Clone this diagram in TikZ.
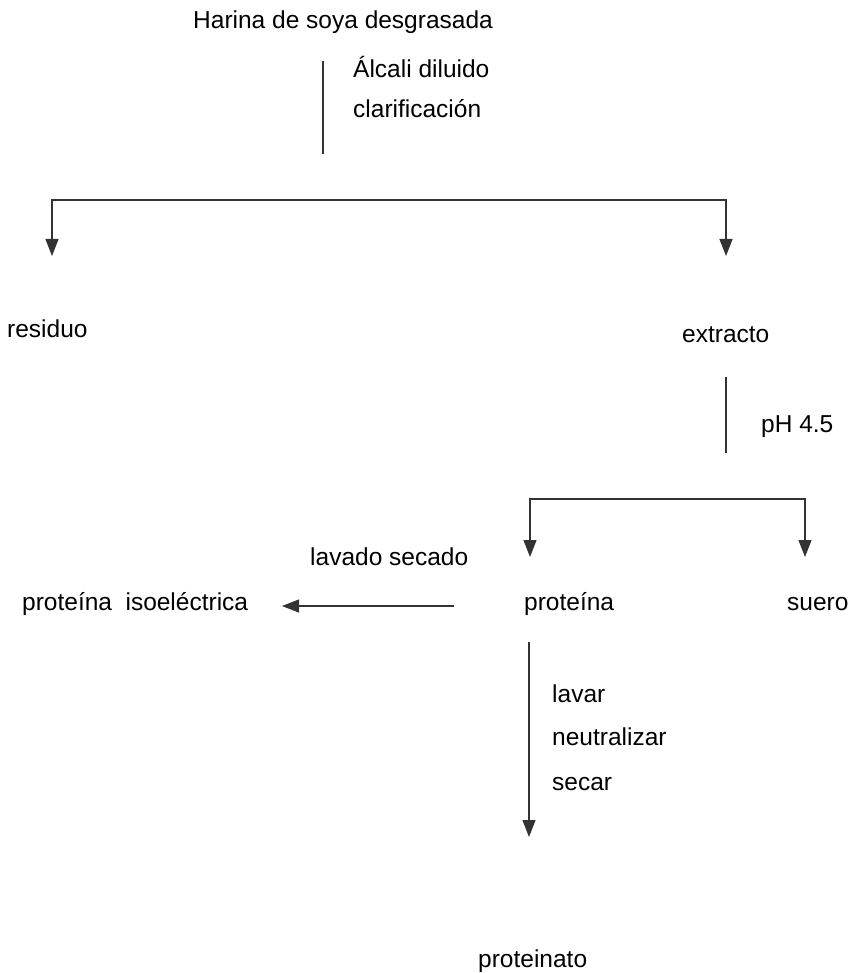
\documentclass[tikz,border=0pt]{standalone}
\usepackage{fontspec}
\setmainfont{Liberation Sans}
\usetikzlibrary{arrows.meta,positioning}

\begin{document}
\begin{tikzpicture}[x=1pt,y=-1pt,>={Triangle[width=13pt,length=17pt]},
  lbl/.style={inner sep=0pt,anchor=base west,font=\fontsize{24.5}{28}\selectfont},
  flow/.style={line width=1.1pt,draw=black!80}]
\useasboundingbox (0,0) rectangle (853,973);
% textos
\node[lbl] (harina) at (193,29) {Harina de soya desgrasada};
\node[lbl] (alcali) at (353,78) {Álcali diluido};
\node[lbl] (clarif) at (353,118) {clarificación};
\node[lbl] (residuo) at (7,337) {residuo};
\node[lbl] (extracto) at (682,342) {extracto};
\node[lbl] (ph) at (761,432) {pH 4.5};
\node[lbl] (lavsec) at (310,565) {lavado secado};
\node[lbl] (isoel) at (22,610) {proteína\hspace{0.55em}isoeléctrica};
\node[lbl] (proteina) at (524,610) {proteína};
\node[lbl] (suero) at (787,610) {suero};
\node[lbl] (lavar) at (552,702) {lavar};
\node[lbl] (neutral) at (552,745) {neutralizar};
\node[lbl] (secar) at (552,790) {secar};
\node[lbl] (proteinato) at (478,967) {proteinato};
% extremos de las lineas
\coordinate (a1) at (323,61);
\coordinate (a2) at (323,154);
\coordinate (r1) at (52,200);
\coordinate (r2) at (52,256);
\coordinate (e1) at (726,200);
\coordinate (e2) at (726,256);
\coordinate (b1) at (726,377);
\coordinate (b2) at (726,453);
\coordinate (p1) at (530,499);
\coordinate (p2) at (530,557);
\coordinate (s1) at (805,499);
\coordinate (s2) at (805,557);
\coordinate (i1) at (454,606);
\coordinate (i2) at (282,606);
\coordinate (n1) at (529,642);
\coordinate (n2) at (529,837);
% conectores
\draw[flow] (a1)--(a2);
\draw[flow,->] (e1)--(r1)--(r2);
\draw[flow,->] (r1)--(e1)--(e2);
\draw[flow] (b1)--(b2);
\draw[flow,->] (s1)--(p1)--(p2);
\draw[flow,->] (p1)--(s1)--(s2);
\draw[flow,->] (i1)--(i2);
\draw[flow,->] (n1)--(n2);
\end{tikzpicture}
\end{document}
